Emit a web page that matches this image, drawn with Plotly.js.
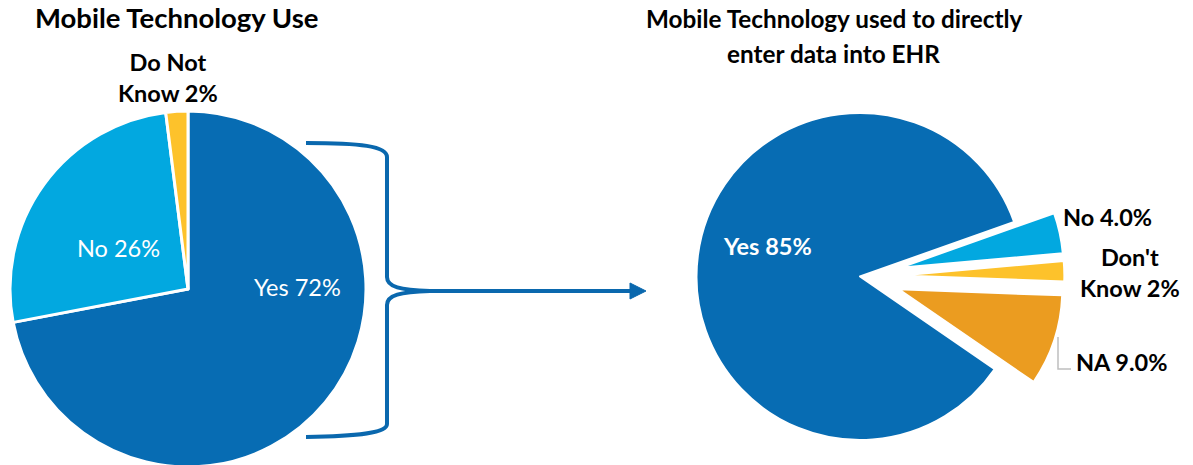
<!DOCTYPE html>
<html>
<head>
<meta charset="utf-8">
<script src="https://cdn.plot.ly/plotly-3.0.1.min.js"></script>
<style>
html, body { margin: 0; padding: 0; overflow: hidden; background: #ffffff; }
#chart { width: 1193px; height: 490px; }
</style>
</head>
<body>
<div id="chart"></div>
<script>
// ---- data ----
const leftTitle = 'Mobile Technology Use';
const leftLabels = ['Yes', 'No', 'Do Not<br>Know'];
const leftValues = [72, 26, 2];
const leftColors = ['#076cb3', '#02a8e0', '#fdc22b'];

const rightTitleLines = ['Mobile Technology used to directly', 'enter data into EHR'];
const rightLabels = ['Yes', 'No', "Don't<br>Know", 'NA'];
const rightValues = [85, 4.0, 2, 9.0];
const rightDecimals = [0, 1, 0, 1];
const rightColors = ['#076cb3', '#02a8e0', '#fdc22b', '#eb9c20'];
const rightPull = [0, 0.25, 0.25, 0.25];

// ---- layout helpers ----
const W = 1193, H = 490;
const fx = x => x / W;
const fy = y => 1 - y / H;
const P = (x, y) => fx(x).toFixed(5) + ',' + fy(y).toFixed(5);

const FONT = 'Lato, "Open Sans", sans-serif';
const blue = '#0a68ae';

function dom(cx, cy, r) {
  return { x: [fx(cx - r), fx(cx + r)], y: [fy(cy + r), fy(cy - r)] };
}

const leftText = leftLabels.map((l, i) => l + ' ' + leftValues[i] + '%');
const rightText = rightLabels.map((l, i) => l + ' ' + rightValues[i].toFixed(rightDecimals[i]) + '%');

const traces = [
  {
    type: 'pie', labels: leftLabels, values: leftValues, sort: false,
    direction: 'clockwise', rotation: 0, textinfo: 'none', hoverinfo: 'skip',
    marker: { colors: leftColors, line: { color: '#ffffff', width: 3 } },
    domain: dom(188, 289, 178)
  },
  {
    type: 'pie', labels: rightLabels, values: rightValues, sort: false,
    direction: 'clockwise', rotation: 124.5, textinfo: 'none', hoverinfo: 'skip',
    pull: rightPull,
    marker: { colors: rightColors, line: { color: '#ffffff', width: 2 } },
    domain: dom(860, 276.5, 163.5 * 1.25)
  }
];

function ann(text, x, y, opts) {
  return Object.assign({
    text: text, x: fx(x), y: fy(y), xref: 'paper', yref: 'paper',
    xanchor: 'center', yanchor: 'middle', showarrow: false,
    font: { family: FONT, size: 23.5, color: '#000000', weight: 700 }
  }, opts || {});
}

const annotations = [
  ann(leftTitle, 176.5, 17.5, { font: { family: FONT, size: 27.5, color: '#000', weight: 700 } }),
  ann(rightTitleLines[0], 834, 18.5, { font: { family: FONT, size: 24.3, color: '#000', weight: 700 } }),
  ann(rightTitleLines[1], 833, 53.5, { font: { family: FONT, size: 24.3, color: '#000', weight: 700 } }),
  ann(leftText[0], 297, 287, { font: { family: FONT, size: 23.5, color: '#ffffff', weight: 400 } }),
  ann(leftText[1], 118, 248, { font: { family: FONT, size: 23.5, color: '#ffffff', weight: 400 } }),
  ann(leftText[2], 168, 77.5),
  ann(rightText[0], 767, 246, { font: { family: FONT, size: 23.5, color: '#ffffff', weight: 700 } }),
  ann(rightText[1], 1107, 217),
  ann(rightText[2], 1130, 272),
  ann(rightText[3], 1121, 362)
];

const bracePath =
  'M ' + P(306, 143) + ' C ' + P(360, 143) + ' ' + P(387, 146) + ' ' + P(387, 157) +
  ' L ' + P(387, 277) + ' C ' + P(387, 287) + ' ' + P(400, 290) + ' ' + P(430, 291) +
  ' C ' + P(400, 292) + ' ' + P(387, 295) + ' ' + P(387, 305) +
  ' L ' + P(387, 424) + ' C ' + P(387, 433) + ' ' + P(360, 436) + ' ' + P(306, 437);

const shapes = [
  { type: 'path', xref: 'paper', yref: 'paper', path: bracePath,
    line: { color: blue, width: 4 }, fillcolor: 'rgba(0,0,0,0)' },
  { type: 'path', xref: 'paper', yref: 'paper',
    path: 'M ' + P(425, 291) + ' L ' + P(632, 291),
    line: { color: blue, width: 4 } },
  { type: 'path', xref: 'paper', yref: 'paper',
    path: 'M ' + P(630, 283) + ' L ' + P(646, 291) + ' L ' + P(630, 299) + ' Z',
    line: { color: blue, width: 1 }, fillcolor: blue },
  { type: 'path', xref: 'paper', yref: 'paper',
    path: 'M ' + P(1058, 337) + ' L ' + P(1058, 369) + ' L ' + P(1071, 369),
    line: { color: '#bfbfbf', width: 1.5 } }
];

const layout = {
  width: W, height: H,
  margin: { l: 0, r: 0, t: 0, b: 0 },
  paper_bgcolor: '#ffffff',
  showlegend: false,
  annotations: annotations,
  shapes: shapes
};

Plotly.newPlot('chart', traces, layout, { staticPlot: true, displayModeBar: false });
</script>
</body>
</html>
